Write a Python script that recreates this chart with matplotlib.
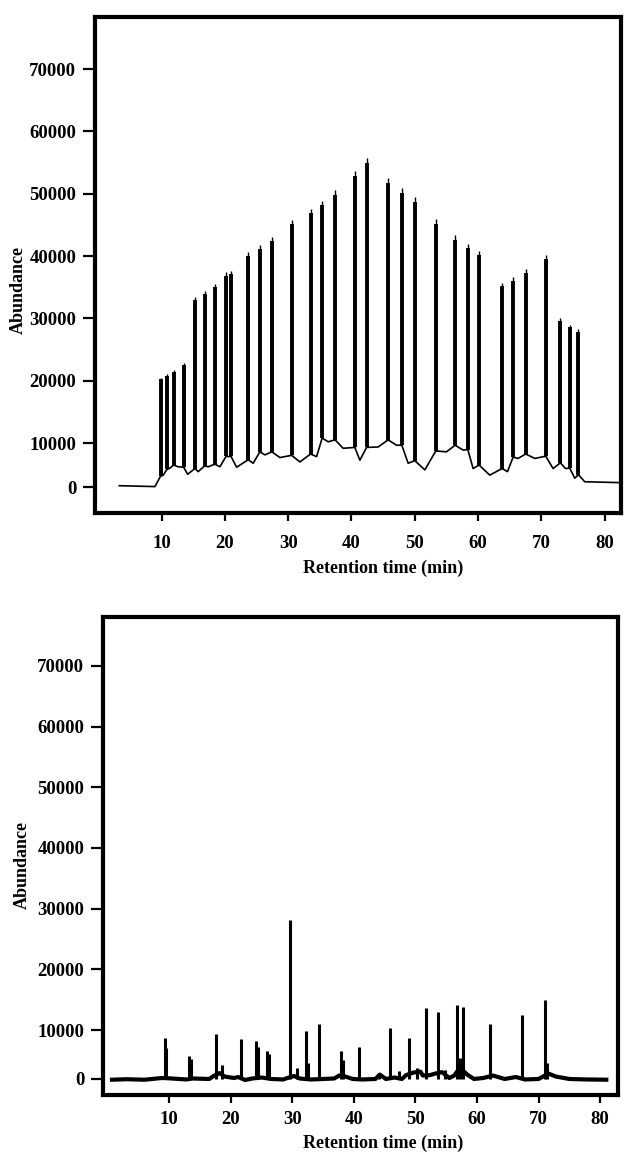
import numpy as np
import matplotlib
matplotlib.use("Agg")
import matplotlib.pyplot as plt

plt.rcParams['font.family'] = ['Liberation Serif', 'DejaVu Serif']
plt.rcParams['font.weight'] = 'bold'

# ---- upper chromatogram (peaks) ----
top_peak_time = [9.84, 10.84, 11.90, 13.48, 15.26, 16.79, 18.42, 20.20, 20.95,
                 23.68, 25.53, 27.42, 30.54, 33.54, 35.37, 37.42, 40.54, 42.39,
                 45.80, 47.96, 50.00, 53.33, 56.38, 58.39, 60.17, 63.80, 65.55,
                 67.55, 70.71, 73.03, 74.50, 75.88]
top_peak_height = [20500, 21000, 21700, 22900, 33500, 34400, 35500, 37400, 37650,
                   40600, 41700, 43100, 45800, 47600, 48900, 50600, 53700, 55700,
                   52500, 50900, 49400, 45900, 43300, 41900, 40800, 35700, 36600,
                   37900, 40200, 30000, 29000, 28300]
top_peak_foot = [2500, 4000, 5000, 4500, 4200, 4800, 5200, 7000, 7000,
                 6200, 8000, 8000, 7200, 7500, 10800, 10500, 9000, 9000,
                 10500, 9500, 6000, 8200, 9500, 8500, 5000, 4200, 6800,
                 7500, 7000, 5500, 4300, 2800]
top_valley_time = [3.30, 8.94, 10.25, 11.31, 12.62, 14.11, 15.78, 17.36, 19.21, 20.52,
                   21.85, 24.47, 26.32, 28.69, 31.85, 34.49, 36.32, 38.69, 41.33,
                   44.22, 47.12, 48.96, 51.60, 55.02, 57.65, 59.23, 61.86, 64.66,
                   66.33, 68.97, 71.86, 73.82, 75.29, 76.87, 82.40]
top_valley_level = [300, 100, 2700, 4300, 4600, 2900, 3500, 4600, 4600, 6900,
                    4500, 5400, 7300, 6700, 5700, 6900, 10200, 8800, 6100,
                    9100, 9500, 5400, 3900, 8000, 8400, 4200, 2700, 3500,
                    6500, 6500, 4200, 4200, 2000, 1200, 1000]

# ---- lower chromatogram ----
bottom_peak_time = [9.30, 9.55, 13.25, 13.50, 17.63, 18.56, 21.64, 24.07, 24.35,
                    25.96, 26.20, 29.69, 30.73, 32.24, 32.50, 34.40, 37.92, 38.20,
                    40.84, 44.14, 45.88, 47.39, 48.91, 50.21, 51.72, 53.72, 54.81,
                    56.80, 57.20, 57.78, 62.11, 67.26, 71.04, 71.30]
bottom_peak_height = [8400, 6300, 4700, 4000, 9100, 2900, 8200, 7700, 6500,
                      5800, 5200, 28200, 2200, 9850, 3200, 11000, 5700, 3800,
                      6600, 1300, 10400, 1600, 8400, 2300, 13600, 12900, 1800,
                      14100, 4300, 13800, 11000, 12500, 15000, 3200]
bottom_base_time = [0.7, 3.0, 6.0, 8.8, 9.8, 12.8, 13.8, 16.5, 17.2, 18.2, 19.0,
                    20.5, 21.2, 22.3, 23.5, 25.0, 26.6, 28.5, 29.2, 30.3, 31.2,
                    33.0, 35.0, 36.8, 37.6, 38.6, 39.8, 41.4, 43.5, 44.2, 45.2,
                    46.6, 47.8, 48.5, 49.6, 50.8, 51.2, 52.4, 53.2, 54.3, 55.5,
                    56.3, 57.2, 58.4, 59.5, 61.0, 62.6, 64.5, 66.3, 67.8, 70.0,
                    71.6, 72.8, 75.0, 78.0, 81.0]
bottom_base_level = [-150, -50, -150, 200, 150, -100, 100, 0, 600, 1200, 500,
                     200, 400, -200, 100, 300, 0, -100, 200, 600, 100,
                     -100, 0, 100, 700, 500, 0, -100, 0, 900, 0,
                     300, 0, 800, 1300, 1500, 700, 800, 1100, 1400, 200,
                     700, 2300, 900, 0, 200, 700, 0, 400, -100, 0,
                     1100, 500, 0, -100, -150]

x_ticks = [10, 20, 30, 40, 50, 60, 70, 80]
y_ticks = [0, 10000, 20000, 30000, 40000, 50000, 60000, 70000]
y_tick_labels = ['0', '10000', '20000', '30000', '40000', '50000', '60000', '70000']


def squeezed(k):
    # the original axis puts 0..10000 closer together than the other steps
    def fwd(y):
        y = np.asarray(y, dtype=float)
        return np.where(y < 10000, y * k, y - 10000 * (1 - k))

    def inv(u):
        u = np.asarray(u, dtype=float)
        return np.where(u < 10000 * k, u / k, u + 10000 * (1 - k))
    return fwd, inv


W, H = 624, 1161
fig = plt.figure(figsize=(W / 100, H / 100), dpi=100)

ax1 = fig.add_axes([95 / W, 1 - 513 / H, 526 / W, 496 / H])
ax2 = fig.add_axes([103 / W, 1 - 1095 / H, 515 / W, 478 / H])

# upper trace: baseline through valleys and peak feet, peaks as bars
t_all = np.array(top_valley_time + top_peak_time)
y_all = np.array(top_valley_level + top_peak_foot)
order = np.argsort(t_all)
ax1.plot(t_all[order], y_all[order], color='black', lw=1.2)
ax1.vlines(top_peak_time, top_peak_foot, top_peak_height, color='black', lw=1.0)
ax1.vlines(top_peak_time, top_peak_foot, np.array(top_peak_height) * 0.985,
           color='black', lw=2.8)

# lower trace
ax2.plot(bottom_base_time, bottom_base_level, color='black', lw=3.0)
ax2.vlines(bottom_peak_time, -100, bottom_peak_height, color='black', lw=2.2)

settings = [
    (ax1, 44 / 62.3, (-0.53, 82.6), (-5900, 78350), 10, 383, 568),
    (ax2, 49 / 60.7, (-0.76, 82.9), (-3270, 78070), 6, 383, 1143),
]
for ax, k, xl, yl, xpad, lx, ly in settings:
    ax.set_yscale('function', functions=squeezed(k))
    ax.set_xlim(*xl)
    ax.set_ylim(*yl)
    ax.set_xticks(x_ticks)
    ax.set_xticklabels([str(v) for v in x_ticks])
    ax.set_yticks(y_ticks)
    ax.set_yticklabels(y_tick_labels)
    ax.minorticks_off()
    for s in ax.spines.values():
        s.set_linewidth(3.0)
    ax.tick_params(axis='y', direction='out', length=8.5, width=1.6, pad=5,
                   labelsize=13.5)
    ax.tick_params(axis='x', direction='out', length=5.5, width=1.6, pad=xpad,
                   labelsize=13.5)
    fig.text(lx / W, 1 - ly / H, 'Retention time (min)', ha='center',
             va='center', fontsize=13, fontweight='bold')

fig.text(18 / W, 1 - 290 / H, 'Abundance', rotation=90, ha='center',
         va='center', fontsize=13, fontweight='bold')
fig.text(22 / W, 1 - 865 / H, 'Abundance', rotation=90, ha='center',
         va='center', fontsize=13, fontweight='bold')

fig.savefig('out.png', dpi=100)
